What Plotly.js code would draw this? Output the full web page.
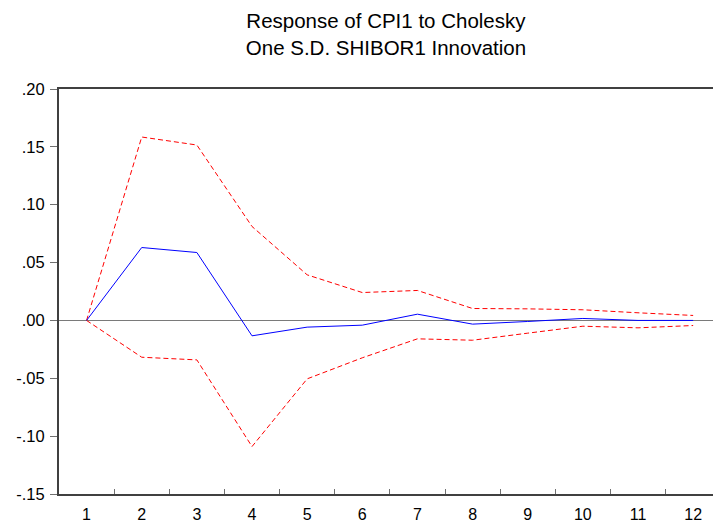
<!DOCTYPE html>
<html>
<head>
<meta charset="utf-8">
<script src="https://cdn.plot.ly/plotly-3.0.1.min.js"></script>
<style>html,body{margin:0;padding:0;background:#fff;}#chart{width:713px;height:522px;}</style>
</head>
<body>
<div id="chart"></div>
<script>
const periods = [1,2,3,4,5,6,7,8,9,10,11,12];
const response = [0, 0.0630, 0.0587, -0.0133, -0.0058, -0.0041, 0.0054, -0.0032, -0.0009, 0.0017, 0.0000, 0.0000];
const upperBand = [0, 0.1585, 0.1516, 0.0812, 0.0394, 0.0241, 0.0259, 0.0103, 0.0100, 0.0092, 0.0066, 0.0043];
const lowerBand = [0, -0.0318, -0.0341, -0.1090, -0.0505, -0.0323, -0.0159, -0.0171, -0.0110, -0.0050, -0.0064, -0.0044];
const yTickVals = [0.20, 0.15, 0.10, 0.05, 0.00, -0.05, -0.10, -0.15];
const yTickText = ['.20', '.15', '.10', '.05', '.00', '-.05', '-.10', '-.15'];
const xMinorTicks = [1.5,2.5,3.5,4.5,5.5,6.5,7.5,8.5,9.5,10.5,11.5];
const titleText = 'Response of CPI1 to Cholesky<br>One S.D. SHIBOR1 Innovation';

const font = 'Arial, "Liberation Sans", sans-serif';
const traces = [
  {x: periods, y: upperBand, mode: 'lines', line: {color: '#ff0000', width: 1, dash: '5px,3px'}, hoverinfo: 'skip'},
  {x: periods, y: lowerBand, mode: 'lines', line: {color: '#ff0000', width: 1, dash: '5px,3px'}, hoverinfo: 'skip'},
  {x: periods, y: response, mode: 'lines', line: {color: '#0000ff', width: 1}, hoverinfo: 'skip'}
];
const layout = {
  width: 713, height: 522,
  margin: {l: 59, r: 0, t: 89, b: 28, pad: 0},
  paper_bgcolor: '#ffffff', plot_bgcolor: '#ffffff',
  showlegend: false,
  font: {family: font, color: '#000000', size: 16},
  title: {text: titleText, font: {family: font, size: 20.5, color: '#000000'}, x: 0.5413, xanchor: 'center', y: 0.946, yanchor: 'middle', yref: 'container'},
  xaxis: {
    range: [0.5, 12.36], showgrid: false, zeroline: false,
    showline: true, linecolor: '#404040', linewidth: 2, mirror: true,
    tickmode: 'array', tickvals: periods, ticktext: periods.map(String),
    ticks: '', ticklen: 0, ticklabelstandoff: 5,
    tickfont: {family: font, size: 16, color: '#000000'},
    minor: {tickmode: 'array', tickvals: xMinorTicks, ticks: 'inside', ticklen: 5, tickwidth: 1, tickcolor: '#707070', showgrid: false}
  },
  yaxis: {
    range: [-0.15, 0.20], showgrid: false,
    zeroline: true, zerolinecolor: '#7a7a7a', zerolinewidth: 1.5,
    showline: true, linecolor: '#404040', linewidth: 2, mirror: false,
    tickmode: 'array', tickvals: yTickVals, ticktext: yTickText,
    ticks: 'outside', ticklen: 7, tickwidth: 1, tickcolor: '#707070',
    ticklabelstandoff: 2,
    tickfont: {family: font, size: 16.5, color: '#000000'}
  }
};
Plotly.newPlot('chart', traces, layout, {staticPlot: true, displayModeBar: false});
</script>
</body>
</html>
